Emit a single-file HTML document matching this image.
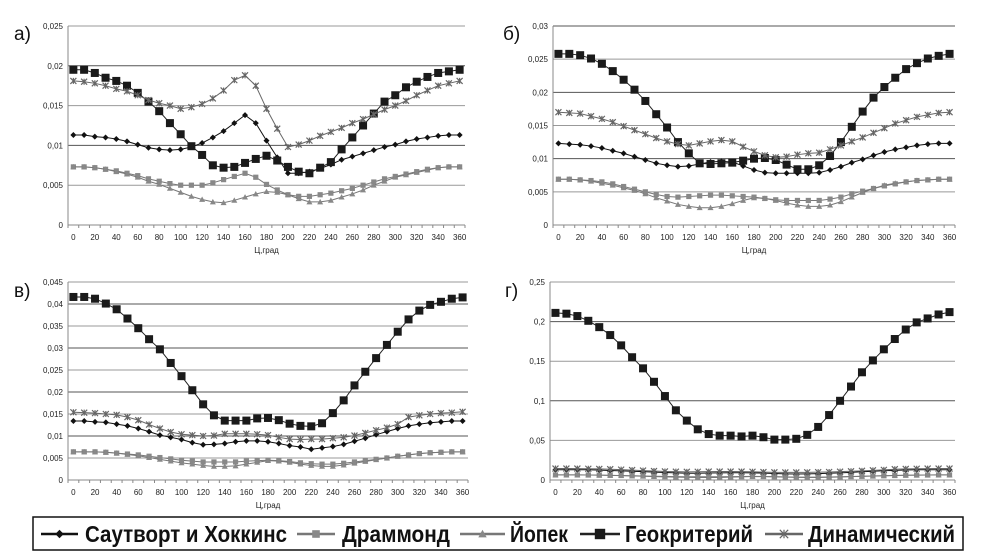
<!DOCTYPE html>
<html><head><meta charset="utf-8">
<style>
html,body{margin:0;padding:0;background:#fff;}
body{width:981px;height:554px;position:relative;overflow:hidden;font-family:"Liberation Sans",sans-serif;}
svg{position:absolute;left:0;top:0;}
.tk{font-size:8px;fill:#222;}
.pl{font-size:19px;fill:#111;}
.lg{font-size:23px;font-weight:bold;fill:#111;}
</style></head>
<body>
<svg id="chart" width="981" height="554">
  <g id="panels"></g>
  <g id="legend">
    <rect x="33" y="517" width="930" height="33" fill="#fff" stroke="#111" stroke-width="1.5"/>
  </g>
</svg>
<script>
const categories = [0,10,20,30,40,50,60,70,80,90,100,110,120,130,140,150,160,170,180,190,200,210,220,230,240,250,260,270,280,290,300,310,320,330,340,350,360];
const seriesNames = ["Саутворт и Хоккинс","Драммонд","Йопек","Геокритерий","Динамический"];

const aSH  = [0.0113,0.0113,0.0111,0.011,0.0108,0.0105,0.0101,0.0097,0.0095,0.0094,0.0095,0.0098,0.0103,0.011,0.0118,0.0128,0.0138,0.0128,0.0106,0.0085,0.0065,0.0065,0.0067,0.0071,0.0076,0.0082,0.0086,0.009,0.0094,0.0098,0.0101,0.0105,0.0108,0.011,0.0112,0.0113,0.0113];
const aDr  = [0.0073,0.0073,0.0072,0.007,0.0068,0.0065,0.0062,0.0058,0.0055,0.0052,0.005,0.005,0.005,0.0053,0.0057,0.0061,0.0065,0.006,0.0051,0.0044,0.0038,0.0036,0.0036,0.0038,0.004,0.0043,0.0046,0.005,0.0054,0.0058,0.0061,0.0064,0.0067,0.007,0.0072,0.0073,0.0073];
const aYo  = [0.0073,0.0073,0.0072,0.007,0.0067,0.0064,0.006,0.0055,0.0051,0.0046,0.0041,0.0036,0.0032,0.0029,0.0028,0.0031,0.0035,0.0039,0.0042,0.0041,0.0038,0.0033,0.0029,0.0029,0.0031,0.0035,0.0039,0.0044,0.005,0.0055,0.006,0.0063,0.0066,0.0069,0.0072,0.0073,0.0073];
const aGeo = [0.0195,0.0195,0.0191,0.0185,0.0181,0.0175,0.0166,0.0155,0.0143,0.0128,0.0114,0.0099,0.0088,0.0075,0.0072,0.0073,0.0078,0.0083,0.0087,0.0081,0.0073,0.0067,0.0065,0.0072,0.0079,0.0095,0.011,0.0125,0.014,0.0155,0.0163,0.0173,0.018,0.0186,0.0191,0.0193,0.0195];
const aDyn = [0.0181,0.018,0.0178,0.0175,0.0171,0.0168,0.0163,0.0157,0.0153,0.015,0.0146,0.0148,0.0152,0.0159,0.0169,0.0182,0.0188,0.0175,0.0146,0.0121,0.0098,0.0101,0.0106,0.0112,0.0117,0.0122,0.0128,0.0133,0.0139,0.0145,0.015,0.0156,0.0163,0.0169,0.0175,0.0178,0.0181];

const bSH  = [0.0123,0.0122,0.0121,0.0119,0.0116,0.0112,0.0108,0.0103,0.0098,0.0093,0.009,0.0088,0.0089,0.0092,0.0095,0.0096,0.0095,0.0089,0.0083,0.0079,0.0078,0.0078,0.0078,0.0078,0.0079,0.0083,0.0088,0.0094,0.0099,0.0105,0.011,0.0114,0.0117,0.012,0.0122,0.0123,0.0123];
const bDr  = [0.0069,0.0069,0.0068,0.0067,0.0065,0.0062,0.0058,0.0054,0.005,0.0046,0.0043,0.0042,0.0043,0.0044,0.0045,0.0045,0.0044,0.0043,0.0042,0.004,0.0038,0.0037,0.0037,0.0037,0.0037,0.0039,0.0042,0.0047,0.0051,0.0055,0.0059,0.0062,0.0065,0.0067,0.0068,0.0069,0.0069];
const bYo  = [0.0069,0.0069,0.0068,0.0066,0.0063,0.006,0.0056,0.0052,0.0047,0.0041,0.0036,0.0031,0.0028,0.0026,0.0026,0.0028,0.0032,0.0037,0.0041,0.004,0.0037,0.0033,0.003,0.0028,0.0028,0.003,0.0035,0.0042,0.0049,0.0055,0.006,0.0063,0.0065,0.0067,0.0068,0.0069,0.0069];
const bGeo = [0.0258,0.0258,0.0256,0.0251,0.0243,0.0232,0.0219,0.0204,0.0187,0.0167,0.0147,0.0125,0.0108,0.0093,0.0092,0.0093,0.0094,0.0097,0.01,0.0101,0.0098,0.0091,0.0084,0.0084,0.009,0.0104,0.0125,0.0148,0.0171,0.0192,0.0208,0.0222,0.0235,0.0244,0.0251,0.0255,0.0258];
const bDyn = [0.017,0.0169,0.0168,0.0164,0.016,0.0155,0.0149,0.0143,0.0137,0.0131,0.0126,0.0122,0.012,0.0123,0.0126,0.0128,0.0126,0.0118,0.0111,0.0105,0.0102,0.0103,0.0106,0.0108,0.0109,0.0114,0.012,0.0126,0.0132,0.0139,0.0146,0.0153,0.0158,0.0163,0.0166,0.0169,0.017];

const cSH  = [0.0134,0.0134,0.0132,0.0131,0.0127,0.0123,0.0117,0.011,0.0102,0.0097,0.0092,0.0085,0.008,0.0081,0.0083,0.0087,0.0089,0.0089,0.0087,0.0083,0.0078,0.0075,0.007,0.0073,0.0076,0.0081,0.0088,0.0095,0.0103,0.011,0.0117,0.0123,0.0127,0.013,0.0132,0.0134,0.0134];
const cDr  = [0.0064,0.0064,0.0064,0.0063,0.0061,0.0059,0.0057,0.0054,0.0051,0.0048,0.0045,0.0043,0.0041,0.0041,0.0041,0.0041,0.0043,0.0044,0.0045,0.0044,0.0042,0.0039,0.0037,0.0036,0.0036,0.0038,0.0041,0.0044,0.0047,0.005,0.0054,0.0057,0.006,0.0062,0.0063,0.0064,0.0064];
const cYo  = [0.0064,0.0064,0.0064,0.0063,0.0061,0.0058,0.0055,0.0051,0.0047,0.0043,0.0039,0.0036,0.0033,0.0031,0.0031,0.0032,0.0036,0.004,0.0044,0.0043,0.004,0.0036,0.0033,0.0031,0.0031,0.0034,0.0038,0.0042,0.0046,0.005,0.0054,0.0057,0.006,0.0062,0.0063,0.0064,0.0064];
const cGeo = [0.0416,0.0416,0.0412,0.0401,0.0388,0.0367,0.0345,0.032,0.0297,0.0266,0.0236,0.0204,0.0172,0.0147,0.0135,0.0135,0.0135,0.014,0.0141,0.0136,0.0128,0.0123,0.0122,0.0129,0.0152,0.0181,0.0215,0.0246,0.0277,0.0307,0.0337,0.0365,0.0385,0.0398,0.0405,0.0412,0.0415];
const cDyn = [0.0154,0.0153,0.0152,0.015,0.0148,0.0143,0.0136,0.0126,0.0117,0.0109,0.0104,0.0102,0.01,0.0101,0.0105,0.0105,0.0105,0.0104,0.0102,0.0097,0.0093,0.0092,0.0093,0.0093,0.0095,0.0097,0.0101,0.0107,0.0113,0.0119,0.0127,0.0143,0.0147,0.015,0.0152,0.0153,0.0155];

const dSH  = [0.013,0.013,0.013,0.013,0.0125,0.012,0.0115,0.011,0.0105,0.01,0.0095,0.009,0.0085,0.0085,0.0088,0.009,0.0092,0.0092,0.009,0.0087,0.0082,0.0078,0.0075,0.0077,0.008,0.0085,0.009,0.0097,0.0104,0.011,0.0116,0.0122,0.0126,0.0129,0.013,0.013,0.013];
const dDr  = [0.0064,0.0064,0.0064,0.0063,0.0061,0.0059,0.0057,0.0054,0.0051,0.0048,0.0045,0.0043,0.0041,0.0041,0.0041,0.0041,0.0043,0.0044,0.0045,0.0044,0.0042,0.0039,0.0037,0.0036,0.0036,0.0038,0.0041,0.0044,0.0047,0.005,0.0054,0.0057,0.006,0.0062,0.0063,0.0064,0.0064];
const dYo  = [0.0064,0.0064,0.0064,0.0063,0.0061,0.0058,0.0055,0.0051,0.0047,0.0043,0.0039,0.0036,0.0033,0.0031,0.0031,0.0032,0.0036,0.004,0.0044,0.0043,0.004,0.0036,0.0033,0.0031,0.0031,0.0034,0.0038,0.0042,0.0046,0.005,0.0054,0.0057,0.006,0.0062,0.0063,0.0064,0.0064];
const dGeo = [0.211,0.21,0.207,0.201,0.193,0.183,0.17,0.155,0.141,0.124,0.106,0.088,0.075,0.064,0.058,0.056,0.056,0.055,0.056,0.054,0.051,0.051,0.052,0.057,0.067,0.082,0.1,0.118,0.136,0.151,0.165,0.178,0.19,0.199,0.204,0.209,0.212];
const dDyn = [0.0145,0.0145,0.0144,0.0142,0.014,0.0136,0.0131,0.0125,0.0119,0.0113,0.0108,0.0105,0.0103,0.0104,0.0106,0.0107,0.0107,0.0106,0.0104,0.01,0.0097,0.0096,0.0096,0.0097,0.0099,0.0101,0.0105,0.011,0.0116,0.0122,0.0128,0.0136,0.014,0.0142,0.0144,0.0145,0.0145];

const aTicks = ["0","0,005","0,01","0,015","0,02","0,025"];
const bTicks = ["0","0,005","0,01","0,015","0,02","0,025","0,03"];
const cTicks = ["0","0,005","0,01","0,015","0,02","0,025","0,03","0,035","0,04","0,045"];
const dTicks = ["0","0,05","0,1","0,15","0,2","0,25"];

const NS = "http://www.w3.org/2000/svg";
function mk(tag, attrs, parent){const e=document.createElementNS(NS,tag);for(const k in attrs)e.setAttribute(k,attrs[k]);parent.appendChild(e);return e;}

const styles = [
  {line:"#111", mark:"diamond", fill:"#111", size:3},
  {line:"#777", mark:"square", fill:"#888", size:2.6},
  {line:"#777", mark:"triangle", fill:"#888", size:3},
  {line:"#222", mark:"square", fill:"#1a1a1a", size:4},
  {line:"#666", mark:"x", fill:"#666", size:3}
];
function marker(g, m, x, y, st){
  let e;
  const s=st.size;
  if(m==="square") e=mk("rect",{x:x-s,y:y-s,width:2*s,height:2*s,fill:st.fill},g);
  else if(m==="diamond") e=mk("polygon",{points:`${x},${y-s} ${x+s},${y} ${x},${y+s} ${x-s},${y}`,fill:st.fill},g);
  else if(m==="triangle") e=mk("polygon",{points:`${x},${y-s} ${x+s},${y+s*0.8} ${x-s},${y+s*0.8}`,fill:st.fill},g);
  else e=mk("path",{d:`M${x-s} ${y-s}L${x+s} ${y+s}M${x-s} ${y+s}L${x+s} ${y-s}M${x} ${y-s}L${x} ${y+s}`,stroke:st.fill,"stroke-width":1.2,fill:"none"},g);
  return e;
}

const panels = [
  {id:"a", label:"а)", lx:14, ly:40, L:68, R:465, T:26, B:225, max:0.025, ticks:aTicks, series:[aSH,aDr,aYo,aGeo,aDyn]},
  {id:"b", label:"б)", lx:503, ly:40, L:553, R:955, T:26, B:225, max:0.03, ticks:bTicks, series:[bSH,bDr,bYo,bGeo,bDyn]},
  {id:"c", label:"в)", lx:14, ly:297, L:68, R:468, T:282, B:480, max:0.045, ticks:cTicks, series:[cSH,cDr,cYo,cGeo,cDyn]},
  {id:"d", label:"г)", lx:505, ly:297, L:550, R:955, T:282, B:480, max:0.25, ticks:dTicks, series:[dSH,dDr,dYo,dGeo,dDyn]}
];
const root = document.getElementById("panels");
panels.forEach(p=>{
  const g = mk("g",{},root);
  
  
  const n = categories.length;
  const step = (p.R-p.L)/n;
  const xs = i => p.L + step*(i+0.5);
  const ys = v => p.B - (v/p.max)*(p.B-p.T);
  const lab = mk("text",{x:p.lx,y:p.ly,class:"pl"},g);
  lab.textContent = p.label;
  
  
  const nt = p.ticks.length;
  p.ticks.forEach((t,i)=>{
    const v = p.max*i/(nt-1);
    const y = ys(v);
    if(i>0){
      const gl = mk("line",{x1:p.L,x2:p.R,y1:y,y2:y,stroke: i%2===0?"#555":"#999","stroke-width":1},g);
      
      
    }
    const tl = mk("text",{x:p.L-5,y:y+3,"text-anchor":"end",class:"tk"},g);
    tl.textContent = t;
    
    
  });
  const ax = mk("path",{d:`M${p.L} ${p.T}V${p.B}H${p.R}`,stroke:"#888",fill:"none","stroke-width":1},g);
  
  
  for(let i=0;i<=n;i++){
    const x=p.L+step*i;
    mk("line",{x1:x,x2:x,y1:p.B,y2:p.B+3,stroke:"#888"},g);
  }
  categories.forEach((c,i)=>{
    if(i%2) return;
    const xl = mk("text",{x:xs(i),y:p.B+15,"text-anchor":"middle",class:"tk"},g);
    xl.textContent = c;
    
    
  });
  const xt = mk("text",{x:(p.L+p.R)/2,y:p.B+28,"text-anchor":"middle",class:"tk","font-size":"6"},g);
  xt.textContent = "Ц,град";
  
  
  p.series.forEach((arr,si)=>{
    const st = styles[si];
    const sg = mk("g",{},g);
    
    
    const pts = arr.map((v,i)=>xs(i)+","+ys(v)).join(" ");
    const pl = mk("polyline",{points:pts,fill:"none",stroke:st.line,"stroke-width":1},sg);
    
    
    arr.forEach((v,i)=>{
      const m = marker(sg, st.mark, xs(i), ys(v), st);
      
      
    });
  });
});

const lg = document.getElementById("legend");
// [line start, line end, text start, text width]
const lgX = [[41,78,85,202],[297,335,342,108],[460,505,510,58],[580,620,625,128],[765,803,808,147]];
seriesNames.forEach((nm,i)=>{
  const st = styles[i];
  const eg = mk("g",{},lg);
  
  
  mk("line",{x1:lgX[i][0],x2:lgX[i][1],y1:534,y2:534,stroke:st.line,"stroke-width":2.5},eg);
  const big = Object.assign({}, st, {size: st.size+1.2});
  marker(eg, st.mark, (lgX[i][0]+lgX[i][1])/2, 534, big);
  const t = mk("text",{x:lgX[i][2],y:542,class:"lg",textLength:lgX[i][3],lengthAdjust:"spacingAndGlyphs"},eg);
  t.textContent = nm;
  
  
});
</script>
</body></html>
